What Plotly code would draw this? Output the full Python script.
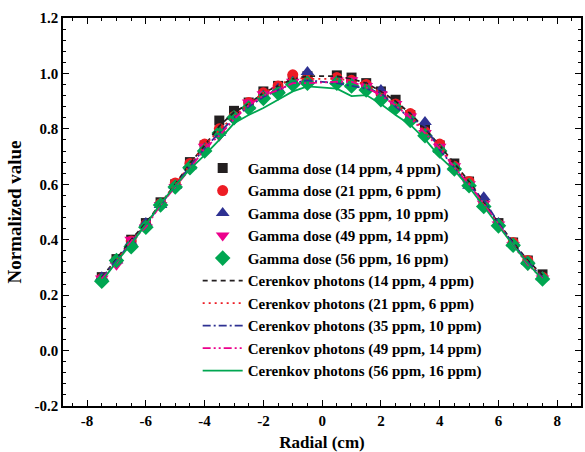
import plotly.graph_objects as go

# Radial positions (cm); the central position is not sampled
radial = [-7.5, -7.0, -6.5, -6.0, -5.5, -5.0, -4.5, -4.0, -3.5, -3.0, -2.5, -2.0, -1.5, -1.0, -0.5,
          0.5, 1.0, 1.5, 2.0, 2.5, 3.0, 3.5, 4.0, 4.5, 5.0, 5.5, 6.0, 6.5, 7.0, 7.5]

# Normalized gamma dose
gamma_14 = [0.265, 0.33, 0.40, 0.46, 0.535, 0.60, 0.68, 0.74, 0.83, 0.865, 0.895, 0.935, 0.955, 0.98, 0.99,
            0.993, 0.985, 0.965, 0.935, 0.905, 0.85, 0.80, 0.74, 0.675, 0.61, 0.53, 0.46, 0.39, 0.325, 0.275]
gamma_21 = [0.26, 0.325, 0.395, 0.455, 0.53, 0.605, 0.675, 0.745, 0.80, 0.845, 0.895, 0.93, 0.955, 0.995, 0.98,
            0.985, 0.975, 0.96, 0.93, 0.89, 0.855, 0.79, 0.745, 0.665, 0.61, 0.525, 0.455, 0.39, 0.325, 0.265]
gamma_35 = [0.265, 0.325, 0.39, 0.46, 0.525, 0.595, 0.665, 0.73, 0.785, 0.845, 0.88, 0.92, 0.945, 0.97, 1.005,
            0.97, 0.96, 0.95, 0.94, 0.88, 0.84, 0.825, 0.725, 0.66, 0.595, 0.553, 0.46, 0.385, 0.32, 0.265]
gamma_49 = [0.26, 0.31, 0.40, 0.445, 0.525, 0.59, 0.655, 0.735, 0.775, 0.835, 0.895, 0.925, 0.94, 0.97, 0.965,
            0.975, 0.975, 0.955, 0.925, 0.89, 0.845, 0.785, 0.735, 0.665, 0.60, 0.53, 0.455, 0.38, 0.31, 0.26]
gamma_56 = [0.25, 0.325, 0.375, 0.445, 0.525, 0.59, 0.66, 0.72, 0.785, 0.84, 0.875, 0.91, 0.93, 0.96, 0.965,
            0.965, 0.955, 0.94, 0.905, 0.875, 0.83, 0.775, 0.72, 0.655, 0.595, 0.52, 0.45, 0.38, 0.315, 0.258]

# Normalized Cerenkov photon counts
cerenkov_14 = [0.265, 0.33, 0.40, 0.46, 0.53, 0.60, 0.675, 0.74, 0.81, 0.86, 0.89, 0.93, 0.955, 0.98, 0.99,
               0.99, 0.98, 0.965, 0.935, 0.90, 0.855, 0.80, 0.74, 0.675, 0.61, 0.535, 0.46, 0.39, 0.325, 0.272]
cerenkov_21 = [0.26, 0.325, 0.395, 0.455, 0.53, 0.60, 0.67, 0.74, 0.795, 0.845, 0.89, 0.93, 0.955, 0.985, 0.98,
               0.98, 0.975, 0.96, 0.93, 0.89, 0.85, 0.79, 0.74, 0.665, 0.605, 0.525, 0.455, 0.385, 0.32, 0.265]
cerenkov_35 = [0.262, 0.325, 0.39, 0.455, 0.525, 0.595, 0.665, 0.73, 0.785, 0.84, 0.88, 0.915, 0.94, 0.965, 0.975,
               0.965, 0.955, 0.945, 0.93, 0.88, 0.84, 0.81, 0.725, 0.66, 0.595, 0.545, 0.46, 0.385, 0.32, 0.263]
cerenkov_49 = [0.26, 0.315, 0.395, 0.445, 0.525, 0.59, 0.655, 0.73, 0.775, 0.835, 0.885, 0.92, 0.94, 0.965, 0.965,
               0.97, 0.97, 0.95, 0.92, 0.885, 0.84, 0.785, 0.73, 0.66, 0.60, 0.53, 0.455, 0.38, 0.31, 0.26]
cerenkov_56 = [0.25, 0.32, 0.385, 0.455, 0.53, 0.595, 0.655, 0.705, 0.76, 0.82, 0.85, 0.875, 0.905, 0.935, 0.953,
               0.945, 0.918, 0.922, 0.89, 0.85, 0.815, 0.763, 0.70, 0.65, 0.59, 0.52, 0.45, 0.38, 0.315, 0.255]

gamma_labels = ["Gamma dose (14 ppm, 4 ppm)", "Gamma dose (21 ppm, 6 ppm)", "Gamma dose (35 ppm, 10 ppm)",
                "Gamma dose (49 ppm, 14 ppm)", "Gamma dose (56 ppm, 16 ppm)"]
cerenkov_labels = ["Cerenkov photons (14 ppm, 4 ppm)", "Cerenkov photons (21 ppm, 6 ppm)",
                   "Cerenkov photons (35 ppm, 10 ppm)", "Cerenkov photons (49 ppm, 14 ppm)",
                   "Cerenkov photons (56 ppm, 16 ppm)"]

x_tick_vals = [-8, -6, -4, -2, 0, 2, 4, 6, 8]
x_tick_text = ["-8", "-6", "-4", "-2", "0", "2", "4", "6", "8"]
y_tick_vals = [-0.2, 0.0, 0.2, 0.4, 0.6, 0.8, 1.0, 1.2]
y_tick_text = ["-0.2", "0.0", "0.2", "0.4", "0.6", "0.8", "1.0", "1.2"]

colors = ["#231f20", "#ed1c24", "#2e3192", "#ec008c", "#00a651"]
symbols = ["square", "circle", "triangle-up", "triangle-down", "diamond"]
sizes = [10, 11, 12, 12, 12]
dashes = ["5px,4px", "2px,4px", "8px,3px,2px,3px", "8px,3px,2px,3px,2px,3px", "solid"]

fig = go.Figure()

gamma_sets = [gamma_14, gamma_21, gamma_35, gamma_49, gamma_56]
for vals, name, c, s, sz in zip(gamma_sets, gamma_labels, colors, symbols, sizes):
    fig.add_trace(go.Scatter(x=radial, y=vals, mode="markers", name=name,
                             marker=dict(symbol=s, size=sz, color=c, line=dict(width=0))))

cerenkov_sets = [cerenkov_14, cerenkov_21, cerenkov_35, cerenkov_49, cerenkov_56]
for vals, name, c, d in zip(cerenkov_sets, cerenkov_labels, colors, dashes):
    fig.add_trace(go.Scatter(x=radial, y=vals, mode="lines", name=name,
                             line=dict(color=c, width=1.8, dash=d)))

serif = "Liberation Serif"
axis_common = dict(
    showline=True, linecolor="black", linewidth=1.6, mirror="allticks",
    ticks="inside", ticklen=6, tickwidth=1.3, tickcolor="black",
    showgrid=False, zeroline=False,
    tickfont=dict(family=serif, size=15, color="black", weight="bold"),
)

fig.update_xaxes(
    range=[-8.82, 8.81], tickmode="array", tickvals=x_tick_vals, ticktext=x_tick_text,
    minor=dict(ticks="inside", ticklen=3, tickwidth=1.2, tickcolor="black", dtick=0.5, tick0=0, showgrid=False),
    title=dict(text="Radial (cm)", font=dict(family=serif, size=17, color="black", weight="bold"), standoff=8),
    **axis_common,
)
fig.update_yaxes(
    range=[-0.2, 1.2], tickmode="array", tickvals=y_tick_vals, ticktext=y_tick_text,
    minor=dict(ticks="inside", ticklen=3, tickwidth=1.2, tickcolor="black", dtick=0.04, tick0=0, showgrid=False),
    title=dict(text="Normalized value", font=dict(family=serif, size=19, color="black", weight="bold"), standoff=8),
    **axis_common,
)

fig.update_layout(
    width=585, height=452,
    margin=dict(l=63, r=2, t=18, b=46),
    paper_bgcolor="white", plot_bgcolor="white",
    legend=dict(x=0.26, y=0.655, xanchor="left", yanchor="top",
                bgcolor="rgba(0,0,0,0)", borderwidth=0,
                font=dict(family=serif, size=15, color="black", weight="bold"),
                tracegroupgap=0, itemwidth=40),
    showlegend=True,
)

fig.write_html("out.html")
